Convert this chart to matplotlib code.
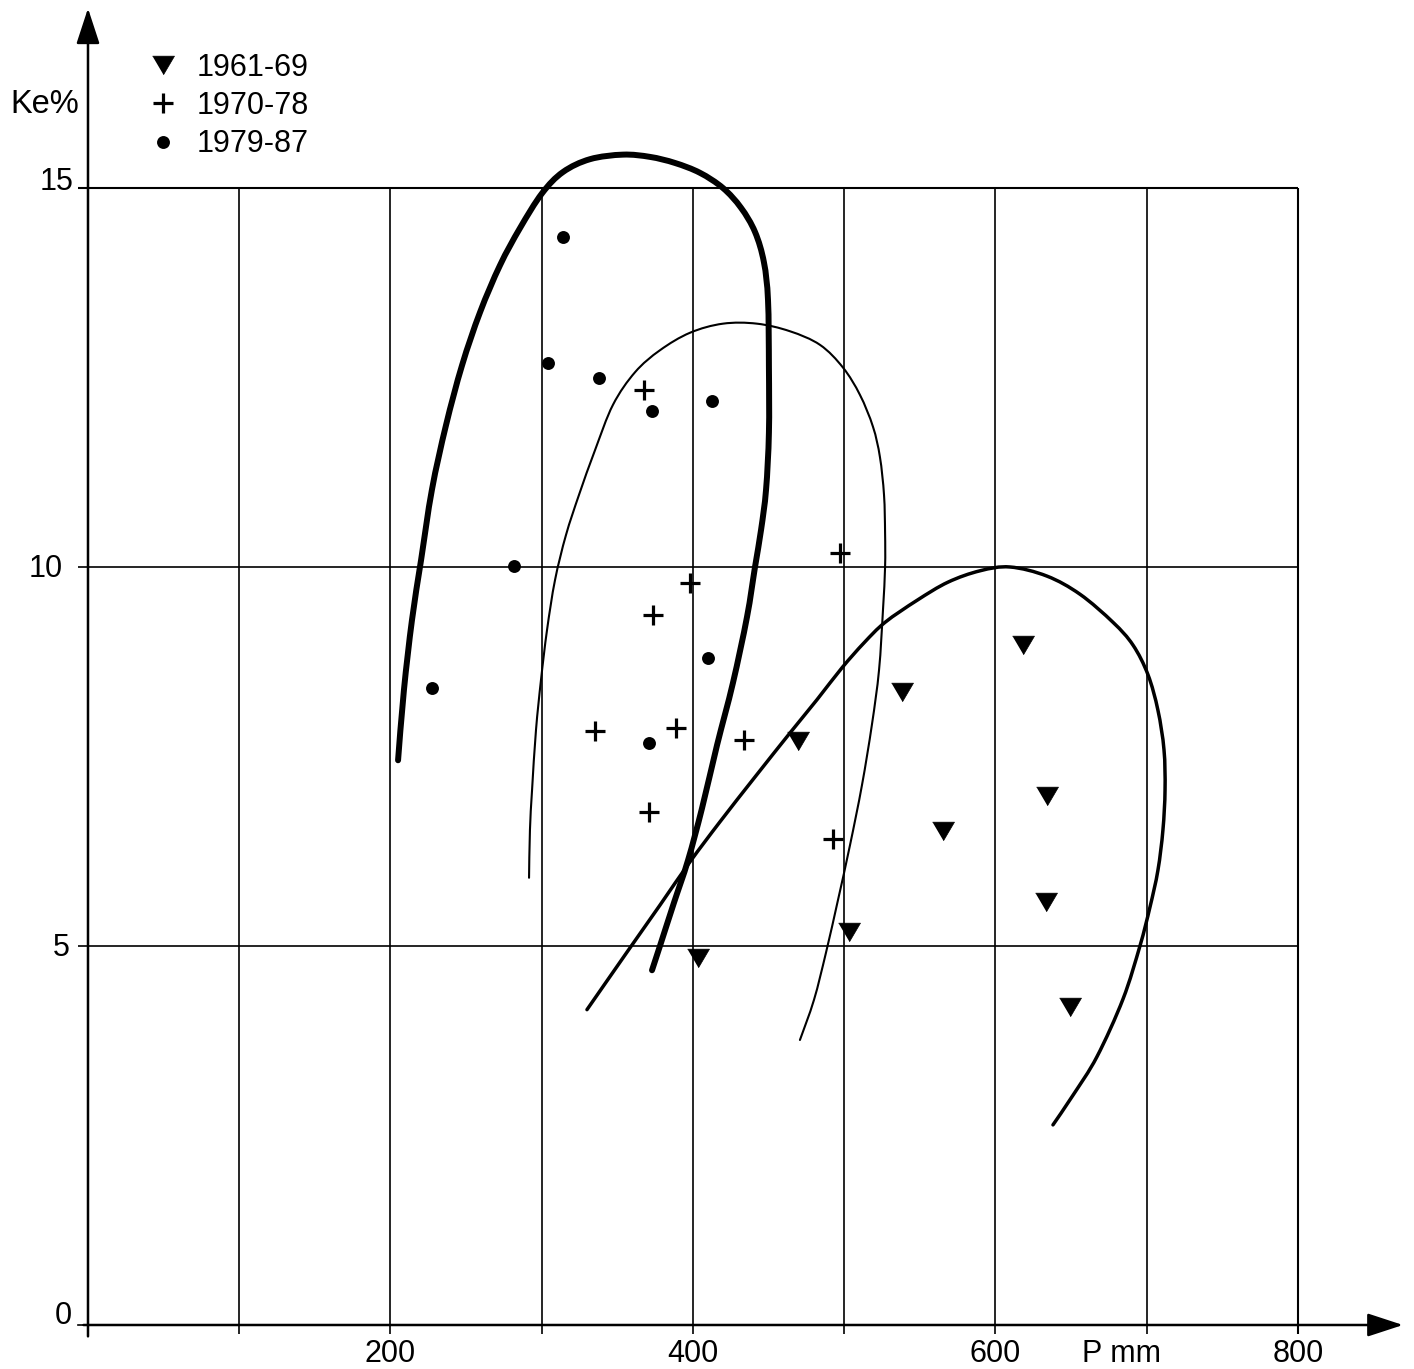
import matplotlib
matplotlib.use("Agg")
import matplotlib.pyplot as plt
from matplotlib.path import Path
from matplotlib.patches import PathPatch

# ---------------- data ----------------
# 1961-69 (triangles)
p_6169 = [618.4, 538.0, 469.4, 565.1, 633.9, 633.2, 503.1, 649.3, 403.5]
ke_6169 = [8.97, 8.35, 7.70, 6.52, 6.98, 5.58, 5.18, 4.20, 4.84]
# 1970-78 (crosses)
p_7078 = [367.8, 496.9, 398.0, 373.4, 335.2, 388.8, 433.9, 371.1, 492.8]
ke_7078 = [12.34, 10.18, 9.79, 9.37, 7.83, 7.87, 7.72, 6.77, 6.41]
# 1979-87 (dots)
p_7987 = [314.0, 304.1, 337.9, 372.9, 412.6, 281.7, 227.4, 409.9, 370.9]
ke_7987 = [14.35, 12.69, 12.49, 12.06, 12.19, 10.01, 8.40, 8.80, 7.68]

# hand-drawn envelope curves
env_7987_p = [205.0, 208.9, 214.2, 220.2, 227.4, 236.7, 247.3, 259.2, 272.4, 285.6,
              300.2, 314.0, 331.9, 353.7, 371.6, 388.1, 404.6, 419.8, 431.7, 441.0,
              446.9, 449.6, 450.2, 450.2, 448.3, 445.0, 441.0, 435.7, 426.4, 415.9,
              406.0, 396.7, 387.4, 378.8, 372.9]
env_7987_ke = [7.45, 8.38, 9.30, 10.09, 11.02, 11.87, 12.66, 13.36, 13.98, 14.47,
               14.93, 15.21, 15.38, 15.44, 15.41, 15.33, 15.20, 15.00, 14.74, 14.42,
               14.02, 13.52, 12.64, 11.77, 11.02, 10.49, 10.00, 9.34, 8.47, 7.65,
               6.82, 6.13, 5.57, 5.04, 4.68]

env_7078_p = [291.6, 292.2, 293.6, 296.2, 299.5, 303.5, 308.8, 316.0, 324.6, 335.2,
              347.1, 361.7, 378.2, 398.0, 419.8, 442.3, 464.1, 484.0, 499.2, 510.4,
              519.0, 523.6, 526.3, 527.0, 527.0, 525.6, 523.0, 518.3, 511.7, 503.8,
              495.9, 487.9, 480.0, 470.7]
env_7078_ke = [5.90, 6.53, 7.06, 7.85, 8.51, 9.17, 9.83, 10.42, 10.95, 11.54,
               12.14, 12.57, 12.86, 13.09, 13.21, 13.21, 13.11, 12.93, 12.63, 12.27,
               11.85, 11.45, 10.95, 10.45, 10.00, 9.43, 8.64, 7.92, 7.12, 6.33,
               5.61, 4.91, 4.29, 3.76]

env_6169_p = [329.9, 356.4, 378.2, 398.0, 417.9, 441.0, 464.1, 482.0, 498.5, 513.1,
              527.0, 548.1, 568.6, 589.8, 609.6, 634.0, 655.9, 677.7, 690.9, 700.8,
              707.4, 711.4, 712.1, 710.7, 707.4, 702.1, 695.5, 684.3, 667.1, 651.2,
              638.0]
env_6169_ke = [4.16, 4.92, 5.54, 6.11, 6.64, 7.23, 7.81, 8.25, 8.67, 9.00,
               9.27, 9.56, 9.80, 9.95, 10.00, 9.88, 9.64, 9.27, 8.97, 8.58,
               8.11, 7.59, 7.06, 6.53, 6.00, 5.51, 5.00, 4.30, 3.54, 3.03,
               2.64]

series_labels = ["1961-69", "1970-78", "1979-87"]
x_grid = [100, 200, 300, 400, 500, 600, 700, 800]
y_grid = [5, 10, 15]
x_ticklabels = [200, 400, 600, 800]
y_ticklabels = [0, 5, 10, 15]
x_title = "P mm"
y_title = "Ke%"

# ---------------- figure ----------------
FONT = "Liberation Sans"
plt.rcParams["font.family"] = [FONT, "DejaVu Sans"]

fig = plt.figure(figsize=(14.14, 13.69), dpi=100)
ax = fig.add_axes([0, 0, 1, 1])
ax.set_xlim(-58.18, 876.7)
ax.set_ylim(-0.5805, 17.48)
ax.axis("off")

GRID_LW = 1.2
for x in x_grid:
    ax.plot([x, x], [-0.12, 15], color="black", lw=GRID_LW if x != 800 else 1.5,
            solid_capstyle="butt")
for y in y_grid:
    ax.plot([-6.6, 800], [y, y], color="black", lw=GRID_LW if y != 15 else 1.5,
            solid_capstyle="butt")
ax.plot([-6.6, 0], [0, 0], color="black", lw=GRID_LW)

arrow_kw = dict(arrowstyle="-|>,head_length=1.1,head_width=0.36", mutation_scale=20,
                lw=1.8, color="black", shrinkA=0, shrinkB=0)
ax.annotate("", xy=(0, 17.37), xytext=(0, -0.15), arrowprops=arrow_kw,
            annotation_clip=False)
ax.annotate("", xy=(869.4, 0.0), xytext=(-3, 0.0), arrowprops=arrow_kw,
            annotation_clip=False)


def smooth_curve(xs, ys, lw):
    """Draw a smooth (Catmull-Rom as cubic Bezier) line through the given points."""
    pts = list(zip(xs, ys))
    n = len(pts)
    verts = [pts[0]]
    codes = [Path.MOVETO]
    for i in range(n - 1):
        p0 = pts[i - 1] if i > 0 else pts[i]
        p1 = pts[i]
        p2 = pts[i + 1]
        p3 = pts[i + 2] if i + 2 < n else pts[i + 1]
        c1 = (p1[0] + (p2[0] - p0[0]) / 6.0, p1[1] + (p2[1] - p0[1]) / 6.0)
        c2 = (p2[0] - (p3[0] - p1[0]) / 6.0, p2[1] - (p3[1] - p1[1]) / 6.0)
        verts += [c1, c2, p2]
        codes += [Path.CURVE4] * 3
    patch = PathPatch(Path(verts, codes), fill=False, edgecolor="black", lw=lw,
                      capstyle="round", joinstyle="round", zorder=3)
    ax.add_patch(patch)


smooth_curve(env_7987_p, env_7987_ke, 4.3)
smooth_curve(env_7078_p, env_7078_ke, 1.5)
smooth_curve(env_6169_p, env_6169_ke, 2.5)

tri = [(-1, 0.85), (1, 0.85), (0, -0.85)]
h1, = ax.plot(p_6169, ke_6169, ls="none", marker=tri, ms=15.8, mfc="black",
              mec="black", mew=0.5, zorder=5, label=series_labels[0])
h2, = ax.plot(p_7078, ke_7078, ls="none", marker="+", ms=14.6, mew=2.3,
              color="black", zorder=5, label=series_labels[1])
h3, = ax.plot(p_7987, ke_7987, ls="none", marker="o", ms=9.3, mfc="black",
              mec="black", mew=0, zorder=5, label=series_labels[2])

ax.legend(handles=[h1, h2, h3], loc="upper left",
          bbox_to_anchor=(0.1048, 0.9615), bbox_transform=fig.transFigure,
          frameon=False, prop={"family": FONT, "size": 22},
          handlelength=1.0, handletextpad=0.6, labelspacing=0.27,
          borderpad=0, borderaxespad=0)

FS = 22
for v in x_ticklabels:
    ax.text(v, -0.488, str(v), ha="center", va="baseline", fontsize=FS)
ax.text(657.2, -0.488, x_title, ha="left", va="baseline", fontsize=FS)

y_label_pos = {0: (-10.6, 0.013), 5: (-11.9, 4.87), 10: (-16.5, 9.87), 15: (-9.9, 14.97)}
for v in y_ticklabels:
    xx, yy = y_label_pos[v]
    ax.text(xx, yy, str(v), ha="right", va="baseline", fontsize=FS)
ax.text(-51.6, 15.99, y_title, ha="left", va="baseline", fontsize=23.5)

fig.savefig("out.png", dpi=100, facecolor="white")
